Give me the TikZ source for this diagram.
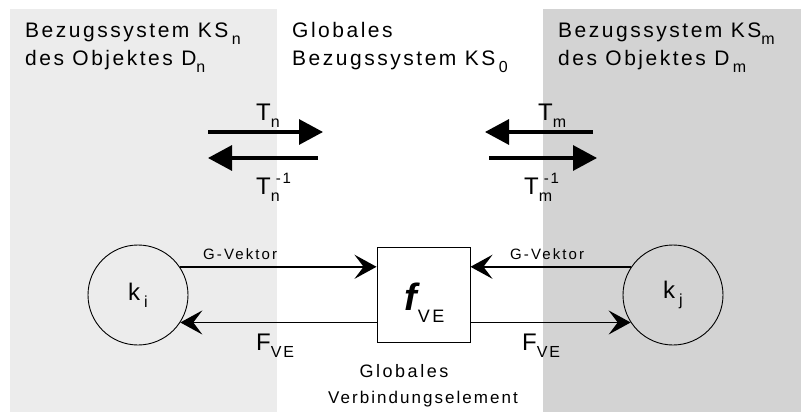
\documentclass[tikz,border=0pt]{standalone}
\usepackage{fontspec}
\setmainfont{Liberation Sans}
\newfontfamily\hdfam[LetterSpace=12]{Liberation Sans}
\newfontfamily\smfam[LetterSpace=14]{Liberation Sans}
\usetikzlibrary{arrows.meta}
\definecolor{leftgray}{HTML}{ECECEC}
\definecolor{rightgray}{HTML}{D3D3D3}
\newcommand\hdsize{\hdfam\fontsize{21}{23}\selectfont}
\newcommand\lowsub[1]{\raisebox{-7pt}{\fontsize{16}{16}\selectfont #1}}
\newcommand\Tlab[1]{\hdfam\fontsize{24}{26}\selectfont T\lowsub{#1}}
\newcommand\Tinv[1]{\hdfam\fontsize{24}{26}\selectfont T\makebox[0pt][l]{\hspace{5pt}\raisebox{11pt}{\fontsize{15}{15}\selectfont -1}}\lowsub{#1}}
\tikzset{
  txt/.style={inner sep=0pt, anchor=base west, font=\hdsize},
  lab/.style={inner sep=0pt, anchor=base west},
  tarrow/.style={line width=3.2pt, -{Triangle[length=24pt,width=25pt]}},
  garrow/.style={line width=1.8pt, -{Stealth[length=22pt,width=24pt,inset=9pt]}},
  obj/.style={circle, draw, line width=0.9pt, minimum size=100pt, inner sep=0pt},
  fbox/.style={rectangle, draw, line width=0.9pt, minimum width=93pt, minimum height=95pt, inner sep=0pt},
}
\begin{document}
\begin{tikzpicture}[x=1pt,y=-1pt]
\useasboundingbox (0,0) rectangle (801,412);
\fill[leftgray] (10,9) rectangle (277,412);
\fill[rightgray] (543,9) rectangle (801,412);

% headers
\node[txt] (h1a) at (25,38) {Bezugssystem KS\,\lowsub{n}};
\node[txt] (h1b) at (25,66) {des Objektes D\lowsub{n}};
\node[txt] (h2a) at (292,38) {Globales};
\node[txt] (h2b) at (292,66) {Bezugssystem KS\,\lowsub{0}};
\node[txt] (h3a) at (558,38) {Bezugssystem KS\lowsub{m}};
\node[txt] (h3b) at (558,66) {des Objektes D\,\lowsub{m}};

% transformation arrows
\coordinate (tnA) at (208,132);
\coordinate (tnB) at (323,132);
\coordinate (tnC) at (318,158);
\coordinate (tnD) at (208,158);
\coordinate (tmA) at (593,132);
\coordinate (tmB) at (485,132);
\coordinate (tmC) at (489,158);
\coordinate (tmD) at (597,158);
\draw[tarrow] (tnA) -- (tnB);
\draw[tarrow] (tnC) -- (tnD);
\draw[tarrow] (tmA) -- (tmB);
\draw[tarrow] (tmC) -- (tmD);
\node[lab] (ltn) at (256,121) {\Tlab{n}};
\node[lab] (ltni) at (256,194) {\Tinv{n}};
\node[lab] (ltm) at (538,121) {\Tlab{m}};
\node[lab] (ltmi) at (524,194) {\Tinv{m}};

% objects
\node[obj] (ki) at (138,295) {\hdfam\fontsize{24}{26}\selectfont k\,\lowsub{i}};
\node[obj] (kj) at (673,295) {\hdfam\fontsize{24}{26}\selectfont k\,\lowsub{j}};
\node[fbox] (fve) at (423.5,294.5) {};
\node[lab] (fvelab) at (404,310) {\fontsize{38}{40}\selectfont\bfseries\itshape f\hspace{1pt}\raisebox{-12pt}{\normalfont\smfam\fontsize{18}{18}\selectfont VE}};

\draw[garrow] (ki.34) -- (fve.west |- ki.34);
\draw[garrow] (fve.west |- ki.-33) -- (ki.-33);
\draw[garrow] (kj.146) -- (fve.east |- kj.146);
\draw[garrow] (fve.east |- kj.213) -- (kj.213);

\node[lab] (gv1) at (203,259) {\smfam\fontsize{15}{16}\selectfont G-Vektor};
\node[lab] (gv2) at (510,259) {\smfam\fontsize{15}{16}\selectfont G-Vektor};
\node[lab] (fl) at (256,350) {\hdfam\fontsize{24}{26}\selectfont F\lowsub{VE}};
\node[lab] (fr) at (522,350) {\hdfam\fontsize{24}{26}\selectfont F\lowsub{VE}};
\node[inner sep=0pt, anchor=base] (gl1) at (404,377) {\smfam\fontsize{18}{20}\selectfont Globales};
\node[inner sep=0pt, anchor=base] (gl2) at (423,403) {\hdfam\fontsize{17}{19}\selectfont Verbindungselement};
\end{tikzpicture}
\end{document}
